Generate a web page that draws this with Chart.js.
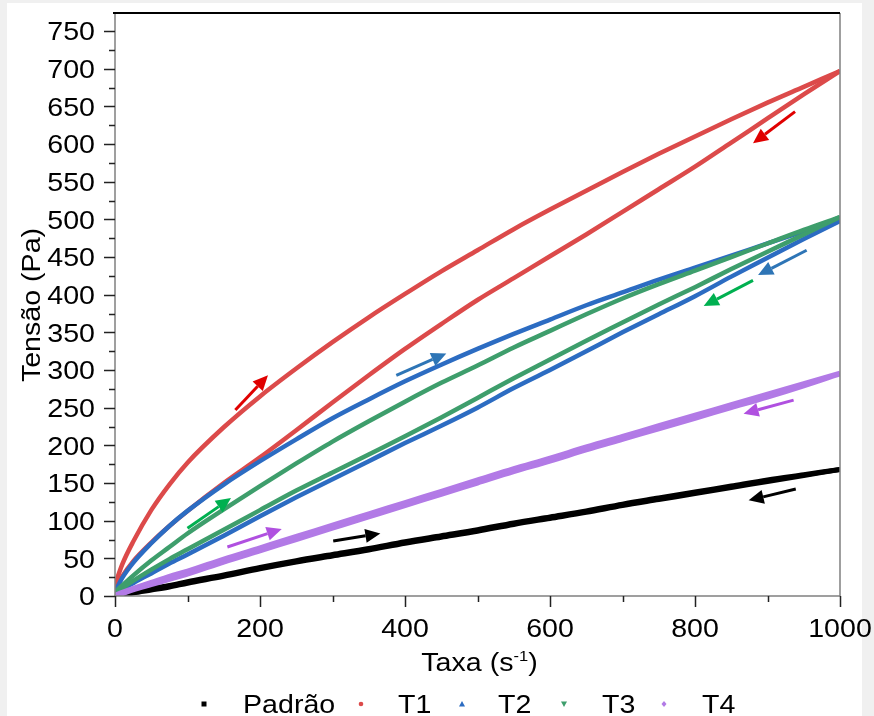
<!DOCTYPE html>
<html lang="pt-BR">

<head>
    <meta charset="UTF-8">
    <title>Curvas de fluxo - histerese</title>
    <script src="https://cdn.jsdelivr.net/npm/chart.js"></script>
    <style>
        html, body { margin: 0; padding: 0; background: #f0f0f0; }
        .painel { position: absolute; left: 7px; top: 3px; width: 855px; height: 713px; background: #fff; }
        #grafico { position: absolute; left: 0; top: 0; }
    </style>
</head>

<body>
    <div class="painel"></div>
    <canvas id="grafico" width="874" height="716"></canvas>
</body>

</html>
<script>
    // taxa de cisalhamento (s-1) usada em todas as curvas
    const taxa = [0, 10, 25, 50, 75, 100, 150, 200, 250, 300, 350, 400, 450, 500, 550, 600, 650, 700, 750, 800, 850, 900, 950, 1000];

    // tensão (Pa) - ida (subida) e volta (descida)
    const padraoIda = [0, 2, 5, 10, 14, 19, 28, 38, 47, 55, 63, 72, 80, 88, 97, 105, 113, 122, 130, 138, 146, 154, 161, 168];
    const padraoVolta = [0, 1, 4, 8, 12, 17, 26, 36, 45, 53, 61, 70, 78, 86, 95, 103, 111, 120, 128, 136, 144, 152, 160, 168];
    const t1Ida = [15, 42, 72, 114, 148, 177, 224, 265, 302, 337, 370, 401, 431, 459, 487, 513, 538, 563, 587, 610, 633, 655, 676, 697];
    const t1Volta = [8, 26, 46, 71, 93, 113, 150, 184, 220, 257, 293, 328, 361, 393, 422, 451, 480, 510, 540, 570, 602, 634, 666, 697];
    const t2Ida = [5, 24, 44, 70, 93, 113, 148, 179, 208, 236, 261, 285, 307, 328, 348, 367, 386, 403, 420, 436, 452, 468, 484, 500];
    const t2Volta = [0, 8, 17, 30, 43, 55, 80, 106, 131, 155, 179, 203, 226, 250, 276, 300, 325, 350, 374, 398, 424, 449, 474, 498];
    const t3Ida = [5, 14, 27, 47, 65, 83, 115, 146, 176, 205, 232, 258, 283, 306, 330, 352, 374, 395, 414, 432, 450, 468, 486, 503];
    const t3Volta = [2, 10, 20, 35, 49, 62, 88, 114, 140, 164, 188, 212, 237, 263, 289, 314, 339, 363, 387, 410, 434, 457, 480, 503];
    const t4Ida = [1, 5, 10, 18, 26, 33, 49, 64, 79, 94, 109, 124, 139, 154, 169, 183, 198, 212, 226, 240, 254, 268, 282, 296];
    const t4Volta = [0, 3, 8, 15, 22, 29, 45, 60, 75, 90, 105, 120, 135, 150, 165, 179, 194, 208, 222, 236, 250, 264, 279, 295];

    const rotulosX = [0, 200, 400, 600, 800, 1000];
    const menoresX = [100, 300, 500, 700, 900];
    const rotulosY = [0, 50, 100, 150, 200, 250, 300, 350, 400, 450, 500, 550, 600, 650, 700, 750];
    const menoresY = [25, 75, 125, 175, 225, 275, 325, 375, 425, 475, 525, 575, 625, 675, 725];

    const fonte = 'Liberation Sans, Arial, sans-serif';
    const largura = 1.1; // fonte levemente expandida na horizontal
    const tamFonte = 26;

    const amostras = [
        { nome: 'Padrão', cor: '#000000', ida: padraoIda, volta: padraoVolta, marcador: 'quadrado', espessura: 5 },
        { nome: 'T1', cor: '#dc4a4a', ida: t1Ida, volta: t1Volta, marcador: 'circulo', espessura: 4.5 },
        { nome: 'T2', cor: '#2c6cc2', ida: t2Ida, volta: t2Volta, marcador: 'triangulo', espessura: 4.5 },
        { nome: 'T3', cor: '#3e9e6c', ida: t3Ida, volta: t3Volta, marcador: 'trianguloInv', espessura: 4.5 },
        { nome: 'T4', cor: '#b27ae6', ida: t4Ida, volta: t4Volta, marcador: 'losango', espessura: 5 },
    ];

    // setas de sentido (coordenadas em unidades dos eixos)
    const setas = [
        { cor: '#e00000', de: [166, 247], para: [211, 293] },
        { cor: '#e00000', de: [938, 643], para: [880, 601] },
        { cor: '#2e75b6', de: [388, 293], para: [457, 322] },
        { cor: '#2e75b6', de: [954, 459], para: [887, 426] },
        { cor: '#00b050', de: [100, 90], para: [160, 130] },
        { cor: '#00b050', de: [880, 419], para: [812, 385] },
        { cor: '#b050e0', de: [155, 65], para: [230, 89] },
        { cor: '#b050e0', de: [936, 260], para: [867, 242] },
        { cor: '#000000', de: [301, 73], para: [366, 83] },
        { cor: '#000000', de: [939, 142], para: [874, 127] },
    ];

    function pontos(valores) {
        return taxa.map(function (x, i) { return { x: x, y: valores[i] }; });
    }

    var datasets = [];
    amostras.forEach(function (a, i) {
        datasets.push({ label: a.nome, data: pontos(a.ida), borderColor: a.cor, borderWidth: a.espessura, order: 10 - i });
        datasets.push({ label: a.nome + ' volta', data: pontos(a.volta), borderColor: a.cor, borderWidth: a.espessura, order: 10 - i });
    });

    // escreve texto com a fonte expandida; devolve a largura ocupada
    function escreve(ctx, txt, x, y, tam, alinhar) {
        ctx.save();
        ctx.font = tam + 'px ' + fonte;
        const w = ctx.measureText(txt).width * largura;
        let x0 = x;
        if (alinhar == 'center') x0 = x - w / 2;
        else if (alinhar == 'right') x0 = x - w;
        ctx.translate(x0, y);
        ctx.scale(largura, 1);
        ctx.textAlign = 'left';
        ctx.textBaseline = 'alphabetic';
        ctx.fillStyle = '#000';
        ctx.fillText(txt, 0, 0);
        ctx.restore();
        return w;
    }

    function mede(ctx, txt, tam) {
        ctx.font = tam + 'px ' + fonte;
        return ctx.measureText(txt).width * largura;
    }

    function desenhaSeta(ctx, x0, y0, x1, y1, cor) {
        const ang = Math.atan2(y1 - y0, x1 - x0);
        const comp = 15, larg = 7;
        const bx = x1 - comp * Math.cos(ang), by = y1 - comp * Math.sin(ang);
        ctx.strokeStyle = cor;
        ctx.fillStyle = cor;
        ctx.lineWidth = 3;
        ctx.beginPath();
        ctx.moveTo(x0, y0);
        ctx.lineTo(bx, by);
        ctx.stroke();
        ctx.beginPath();
        ctx.moveTo(x1, y1);
        ctx.lineTo(bx + larg * Math.sin(ang), by - larg * Math.cos(ang));
        ctx.lineTo(bx - larg * Math.sin(ang), by + larg * Math.cos(ang));
        ctx.closePath();
        ctx.fill();
    }

    function desenhaMarcador(ctx, tipo, x, y, cor) {
        ctx.fillStyle = cor;
        ctx.beginPath();
        if (tipo == 'quadrado') {
            ctx.rect(x - 2.5, y - 2.5, 5, 5);
        } else if (tipo == 'circulo') {
            ctx.arc(x, y, 2.3, 0, Math.PI * 2);
        } else if (tipo == 'triangulo') {
            ctx.moveTo(x, y - 3); ctx.lineTo(x + 3, y + 2.5); ctx.lineTo(x - 3, y + 2.5);
        } else if (tipo == 'trianguloInv') {
            ctx.moveTo(x, y + 3); ctx.lineTo(x + 3, y - 2.5); ctx.lineTo(x - 3, y - 2.5);
        } else {
            ctx.moveTo(x, y - 3); ctx.lineTo(x + 2.5, y); ctx.lineTo(x, y + 3); ctx.lineTo(x - 2.5, y);
        }
        ctx.closePath();
        ctx.fill();
    }

    const moldura = {
        id: 'moldura',
        afterDatasetsDraw(chart) {
            const ctx = chart.ctx;
            const area = chart.chartArea;
            const sx = chart.scales.x, sy = chart.scales.y;
            ctx.save();

            setas.forEach(function (s) {
                desenhaSeta(ctx, sx.getPixelForValue(s.de[0]), sy.getPixelForValue(s.de[1]),
                    sx.getPixelForValue(s.para[0]), sy.getPixelForValue(s.para[1]), s.cor);
            });

            // eixos
            ctx.lineWidth = 1.5;
            ctx.strokeStyle = '#808080';
            ctx.beginPath();
            ctx.moveTo(area.left, area.top); ctx.lineTo(area.left, area.bottom);
            ctx.lineTo(area.right, area.bottom); ctx.lineTo(area.right, area.top);
            ctx.stroke();
            ctx.strokeStyle = '#000';
            ctx.lineWidth = 2;
            ctx.beginPath();
            ctx.moveTo(area.left - 2, area.top); ctx.lineTo(area.right, area.top);
            ctx.stroke();

            // marcas dos eixos
            ctx.strokeStyle = '#222';
            ctx.lineWidth = 1.5;
            ctx.beginPath();
            rotulosY.concat(menoresY).forEach(function (v) {
                const y = Math.round(sy.getPixelForValue(v)) + 0.5;
                const t = rotulosY.includes(v) ? 11 : 6;
                ctx.moveTo(area.left - t, y); ctx.lineTo(area.left, y);
            });
            rotulosX.concat(menoresX).forEach(function (v) {
                const x = Math.round(sx.getPixelForValue(v)) + 0.5;
                const t = rotulosX.includes(v) ? 11 : 6;
                ctx.moveTo(x, area.bottom); ctx.lineTo(x, area.bottom + t);
            });
            ctx.stroke();

            // rótulos das marcas
            const capa = tamFonte * 0.716;
            sy.ticks.forEach(function (t) {
                escreve(ctx, String(t.value), area.left - 20, sy.getPixelForValue(t.value) + capa / 2, tamFonte, 'right');
            });
            sx.ticks.forEach(function (t) {
                escreve(ctx, String(t.value), sx.getPixelForValue(t.value), 637, tamFonte, 'center');
            });

            // títulos dos eixos
            const partes = [['Taxa (s', tamFonte, 671], ['-1', 15, 661], [')', tamFonte, 671]];
            let total = 0;
            partes.forEach(function (p) { total += mede(ctx, p[0], p[1]); });
            let x0 = (area.left + area.right) / 2 + 2 - total / 2;
            partes.forEach(function (p) { x0 += escreve(ctx, p[0], x0, p[2], p[1], 'left'); });

            ctx.save();
            ctx.translate(40, 305);
            ctx.rotate(-Math.PI / 2);
            escreve(ctx, 'Tensão (Pa)', 0, 0, tamFonte, 'center');
            ctx.restore();

            // legenda
            const posMarc = [204, 361, 462, 564, 664];
            const posTexto = [243, 398, 498, 602, 702];
            amostras.forEach(function (a, i) {
                desenhaMarcador(ctx, a.marcador, posMarc[i], 704, a.cor);
                escreve(ctx, a.nome, posTexto[i], 713, tamFonte, 'left');
            });

            ctx.restore();
        }
    };

    function semFolga(s) {
        s.paddingTop = 0; s.paddingBottom = 0; s.paddingLeft = 0; s.paddingRight = 0;
    }

    const config = {
        type: 'line',
        data: { datasets: datasets },
        options: {
            responsive: false,
            animation: false,
            layout: { padding: { top: 13, right: 34, left: 0, bottom: 0 } },
            elements: {
                point: { radius: 0 },
                line: { cubicInterpolationMode: 'monotone' }
            },
            plugins: { legend: { display: false }, tooltip: { enabled: false } },
            scales: {
                x: {
                    type: 'linear', min: 0, max: 1000,
                    grid: { display: false, drawTicks: false },
                    border: { display: false },
                    afterBuildTicks: function (s) { s.ticks = rotulosX.map(function (v) { return { value: v }; }); },
                    afterFit: function (s) { s.height = 120; semFolga(s); },
                    ticks: { display: false }
                },
                y: {
                    type: 'linear', min: 0, max: 774,
                    grid: { display: false, drawTicks: false },
                    border: { display: false },
                    afterBuildTicks: function (s) { s.ticks = rotulosY.map(function (v) { return { value: v }; }); },
                    afterFit: function (s) { s.width = 115; semFolga(s); },
                    ticks: { display: false }
                }
            }
        },
        plugins: [moldura]
    };

    let grafico = new Chart(document.getElementById('grafico'), config);
</script>
